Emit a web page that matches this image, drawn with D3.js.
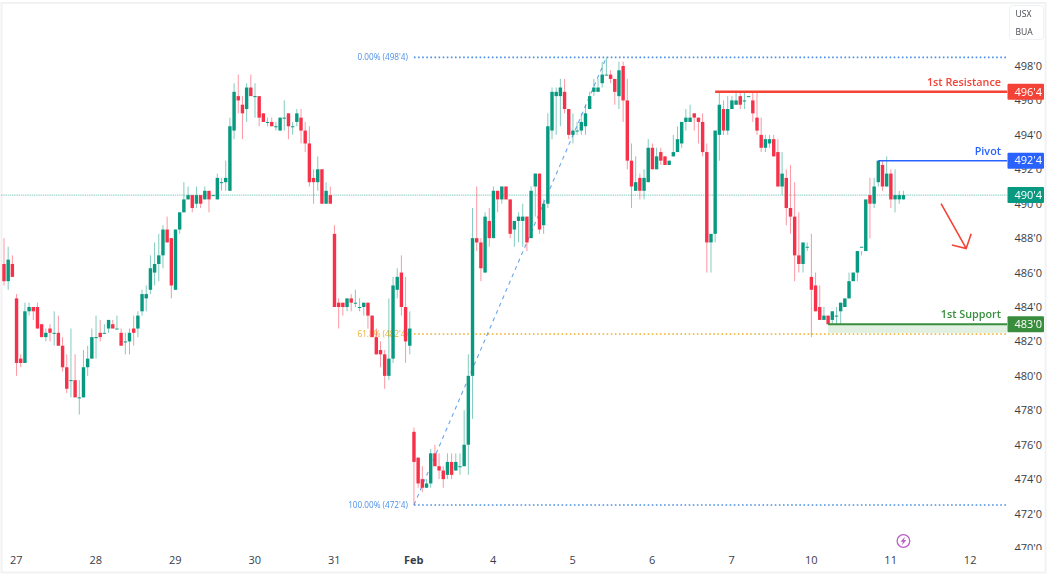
<!DOCTYPE html>
<html>
<head>
<meta charset="utf-8">
<script src="https://cdn.jsdelivr.net/npm/d3@7"></script>
<style>
  html, body { margin: 0; padding: 0; background: #fff; }
  svg { display: block; filter: blur(0.35px); }
  text { font-family: "Open Sans", sans-serif; }
</style>
</head>
<body>
<div id="chart"></div>
<script>
// hourly bars, 19 per session, prices in cents (quarter cent ticks)
const opens = [
  486.5,485.5,486.5,484.5,481,480.75,483.75,484,484,483,482.25,482.75,482.5,482.5,481.75,480.5,479.75,479.75,478.75,478.75,
  480.5,481,482.25,482.5,482.5,482.75,483,482.75,482.5,482,482,482.75,482.75,483.75,484.5,485,486,486.5,487,488.5,
  488,485,488.5,489.5,490.25,490.5,490,490.5,490.25,490.75,490.5,490.25,491.25,491.25,490.75,494.25,496.25,495.75,495.5,496.75,
  496.25,496.25,495.25,494.75,494.75,494.5,494.25,495,495.25,494.5,494.75,495,494.25,493.5,491.5,491.25,492,490,490.5,488.25,
  484.25,484.25,484,484.5,484.25,484,484,484.25,483.5,482.25,481.5,481.25,480,481,485,486,484,481.75,476.75,475.25,
  474,473.5,473.75,475.5,474.75,474.5,474.25,475,474.5,474.75,474.75,476,480,488,487.75,486,489,488,490.75,490.25,
  491,490.25,488.5,489,489,489.25,488,491,491.75,488.75,490,494.25,496.25,496.25,496.5,495.5,494,494.25,494.25,494.5,
  495.5,496.5,496.5,497,497.5,497.5,497.25,496.25,498,496,492.5,490.75,491.5,490.75,491.25,493.25,492,493,492.75,492.25,
  492.75,493,493.5,494.75,494.75,495.25,495,494.75,493,487.75,488.25,494,495.5,494.25,495.5,495.75,496.25,496,496.25,496,
  495,494,493.25,493.5,493.75,493,491,491.5,489.75,489.25,487,486.5,487.5,485.75,485.25,484,483.25,483.5,483.25,483.5,
  483.75,484,484.5,485.5,486,487.5,487.25,490.5,490,491.25,492.25,491,491.75,490.25,490.25,490.25
];
const highs = [
  488,487.5,487,484.75,481.25,484.25,484.25,484,484.25,483,482.75,483,483.75,483.5,482.25,481.25,482.75,481.25,479.75,481.5,
  481.75,482.75,483.5,483.25,483,483.25,483.25,483.5,482.75,482.5,482.75,483.5,483.75,485,485.25,487,487.75,488.25,488.75,489.25,
  488,488.5,489.5,491.25,491,490.5,491,490.5,491,490.75,490.5,491.75,491.5,492.5,495,497,497.5,496.25,497,497.5,
  497,496.25,495.25,495,495,494.75,495,496,495.25,494.75,495.5,495.5,494.75,494.5,492,492.75,492,491.25,491,488.75,
  484.5,484.25,484.5,484.75,485,484.5,484.25,484.25,483.5,482.75,482,481.5,484.5,485.75,486.25,487,485.75,483.75,477,475.25,
  474.75,474,475.75,476,475.5,474.75,475.5,475.5,475.5,475.5,478,481.25,489.75,491,488,489.5,489.75,491,490.75,491,
  491,490.25,489,489.5,490,489.25,491,491.75,491.75,490.25,495.25,496.75,496.75,497.25,497.25,495.5,495.25,494.75,495.25,495.75,
  496.5,497.25,497.25,498.25,498.5,497.75,497.25,498.25,498.25,497.25,493.5,492.75,491.75,492,493.75,493.5,493.25,493.25,492.75,492.5,
  494,494.5,494.75,495.5,495.75,495.25,495,495.25,493.5,486,491,496.5,496,496.25,496.25,496.5,496.5,496.5,496,496.5,
  496.5,495,494,494,494,493.75,493,492,492.25,491.25,489.5,487,487.75,488.25,486,485.25,484,483.5,483.75,484,
  484.25,484.25,486,486,486.5,487.25,489,491.5,491.5,491.5,492.5,492.75,492,492,490.75,490.75,490.75
];
const lows = [
  485.25,485,485.75,480,480.5,480.75,483.5,483.25,482.75,482.25,482,482,481.75,481.75,480.25,479,478.75,478.75,477.75,478.75,
  480,481,481,482,482.5,482.5,482.75,482.75,481.75,481.25,481.25,481.75,482.25,483.5,483.75,484.75,485.25,485.5,486.25,487.75,
  484.5,485,488.25,489.5,490.25,489.5,489.75,489.75,490.25,489.5,490.5,490.25,490.75,490.75,490.75,493.75,495.25,493.75,494.75,496.25,
  495,494.5,494.75,494.5,494.5,494.25,494.25,494.25,493.75,494,494.5,493.5,493,491,490,490.75,490,490,490,484,
  482.75,483.5,483.75,483.75,484,483.75,483.5,482.75,482.25,481.25,480.5,479.25,479.75,480.75,484.5,483.5,480.75,481.25,472.5,473.5,
  473.25,473.5,473.5,474.75,474,473.5,474,474,474.5,474.25,474.75,474.25,477.5,487.25,485.5,486,487.5,488,489.5,490,
  490.25,488,487.5,487.75,487.5,487.25,488,489.25,488.25,488.25,489.75,493.75,494,494.5,495.25,493.75,493.5,494,494,494,
  495.5,496.25,496.5,496.75,497.5,497,495.75,495.5,494.75,492,489.75,490.75,490.25,490.25,491.25,492,492,492.25,492.25,492.25,
  492.75,493,493.25,494.25,494.75,494.25,493.5,492.75,486,487.75,487.75,492.5,494,494,495.5,495.75,495.5,495.5,496,494.75,
  494,493,493,493.25,492.75,491,490.5,488.75,488.25,485.5,486,486,487.25,482.25,483.75,483.25,483.25,483,483,483,
  483,484,484.5,485.5,485.5,487,487.25,488,489.75,491,490.75,491,489.75,489.5,490,490.25
];
const closes = [
  485.5,486.75,485.75,480.75,480.75,483.75,484,483.75,482.75,482.25,482.5,482.5,482.5,481.75,480.5,479.25,479.75,478.75,478.75,480.5,
  481,482.25,482.25,482.25,482.5,483.25,482.75,482.75,481.75,482,482.5,482.5,483.5,484.75,484.75,486.25,486.5,487,488.5,487.75,
  485.25,488.5,489.5,490.25,490.5,489.75,490.5,490,490.75,490.25,490.5,491.5,491.25,491.5,494.5,496.5,496,495.25,496.75,496.25,
  496.25,495,494.75,494.75,494.5,494.5,495,495,494.5,494.5,495.25,494.25,493.5,491.25,491.25,492,490,490.75,490,484,
  484,484,484.5,484.25,484.25,484,484.25,483.5,482.25,481.25,481.25,480,481,485.25,485.75,484,482,482.75,475,473.75,
  473.5,473.75,475.5,474.75,474.5,474,475,474.25,475,474.75,476,480,488,487.75,486.25,489.25,488,490.75,490.25,491,
  490.25,488.25,489,489.25,489.25,487.75,490.75,491.75,488.5,490,494.5,496.5,496.5,496.75,495.5,494,494.25,494.25,494.75,495.25,
  496.25,496.75,496.75,497.5,497.5,497.25,496.5,497.75,496,492.5,491,491.25,490.75,491.5,493.25,492,492.75,492.5,492.25,492.5,
  493,493.75,494.75,495,495,495,494.75,493,487.75,488.25,494.25,495.75,494.25,495.5,496,496,495.75,496,496.25,495.25,
  494.25,493.25,493.75,493.75,492.75,491,491.75,489.75,489.25,487,486.5,487.75,487.5,485,483.75,483.25,483.5,483,483.75,483.5,
  484.25,484.5,485.5,486,487.25,487.5,490.25,490,491,492.5,491,491.75,490.25,490.5,490.5,490.5
];

const dayLabels = ["27", "28", "29", "30", "31", "Feb", "4", "5", "6", "7", "10", "11", "12"];
const dayBars = [3, 22, 41, 60, 79, 98, 117, 136, 155, 174, 193, 212, 231];
const priceTicks = [470, 472, 474, 476, 478, 480, 482, 484, 486, 488, 490, 492, 494, 496, 498];

const fibPrices = [498.5, 482.43, 472.5];
const fibNames = ["0.00%", "61.8%", "100.00%"];
const fibColors = ["#4a90e8", "#eeb02c", "#4a90e8"];
const fibStartBar = 98;
const fibEndBar = 144;
const lineEndBar = 239.8;

const levelNames = ["1st Resistance", "Pivot", "1st Support"];
const levelPrices = [496.5, 492.5, 483];
const levelStartBars = [170, 209, 197];
const levelColors = ["#f44336", "#2962ff", "#388e3c"];
const levelWidths = [2.4, 1.6, 2];
const supportZone = [483, 482.5];

// arrow points as [bar, price]: start, tip, and the two head ends
const arrowStart = [224, 490];
const arrowTip = [230, 487.4];
const arrowHeadA = [231.2, 488.25];
const arrowHeadB = [226.6, 487.6];

const upColor = "#089981";
const downColor = "#f7314a";
const width = 1048;
const height = 579;
const barCount = opens.length;
const lastPrice = closes[barCount - 1];

const x = d3.scaleLinear().domain([0, 240]).range([4, 1008]);
const y = d3.scaleLinear().domain([470, 498]).range([548, 66]);

// prices print as whole cents and eighths, to the nearest quarter cent
const fmtPrice = p => {
  const q = Math.round(p * 4) / 4;
  return Math.floor(q) + "'" + (q - Math.floor(q)) * 8;
};

const svg = d3.select("#chart").append("svg")
  .attr("width", width)
  .attr("height", height);

svg.append("rect")
  .attr("x", 1.5).attr("y", 3)
  .attr("width", 1044).attr("height", 569.5)
  .attr("fill", "#fff")
  .attr("stroke", "#f1f2f4")
  .attr("stroke-width", 2);

svg.append("clipPath").attr("id", "pane")
  .append("rect").attr("x", 0).attr("y", 0).attr("width", width).attr("height", 550);

// price axis
const yAxis = svg.append("g")
  .attr("clip-path", "url(#pane)")
  .attr("transform", "translate(1008,0)")
  .call(d3.axisRight(y).tickValues(priceTicks).tickSize(0).tickPadding(6.5).tickFormat(fmtPrice));
yAxis.select(".domain").remove();
yAxis.selectAll("text").attr("font-size", 11).attr("fill", "#3a3d47")
  .style("font-family", '"Open Sans", sans-serif');

// time axis
const xAxis = svg.append("g")
  .attr("transform", "translate(-0.7,551)")
  .call(d3.axisBottom(x).tickValues(dayBars).tickSize(0).tickPadding(5).tickFormat((d, i) => dayLabels[i]));
xAxis.select(".domain").remove();
xAxis.selectAll("text").attr("font-size", 11).attr("fill", "#3a3d47")
  .attr("font-weight", (d, i) => dayLabels[i] === "Feb" ? 700 : 400)
  .style("font-family", '"Open Sans", sans-serif');

// last price line
svg.append("line")
  .attr("x1", x(0) - 3).attr("x2", x(lineEndBar))
  .attr("y1", y(lastPrice)).attr("y2", y(lastPrice))
  .attr("stroke", upColor).attr("stroke-opacity", 0.4)
  .attr("stroke-width", 1.4)
  .attr("stroke-dasharray", "1.4 0.8");

// support zone
svg.append("rect")
  .attr("x", x(levelStartBars[2]))
  .attr("y", y(supportZone[0]))
  .attr("width", x(lineEndBar) - x(levelStartBars[2]))
  .attr("height", y(supportZone[1]) - y(supportZone[0]))
  .attr("fill", "#e2f0e2");

// fib levels
svg.selectAll(".fib").data(fibPrices).enter().append("line")
  .attr("class", "fib")
  .attr("x1", x(fibStartBar)).attr("x2", x(lineEndBar))
  .attr("y1", d => y(d)).attr("y2", d => y(d))
  .attr("stroke", (d, i) => fibColors[i])
  .attr("stroke-width", 1.6)
  .attr("stroke-dasharray", "1.6 2.5");

svg.selectAll(".fib-label").data(fibPrices).enter().append("text")
  .attr("class", "fib-label")
  .attr("x", x(fibStartBar) - 6)
  .attr("y", d => y(d) + 3)
  .attr("text-anchor", "end")
  .attr("font-size", 8.2)
  .attr("fill", (d, i) => fibColors[i])
  .text((d, i) => `${fibNames[i]} (${fmtPrice(d)})`);

// fib trend line
svg.append("line")
  .attr("x1", x(fibStartBar)).attr("y1", y(fibPrices[2]))
  .attr("x2", x(fibEndBar)).attr("y2", y(fibPrices[0]))
  .attr("stroke", "#6aa5ec")
  .attr("stroke-width", 1.1)
  .attr("stroke-dasharray", "4 4");

// candles
const candles = svg.selectAll(".candle").data(opens).enter().append("g").attr("class", "candle");
const candleColor = (d, i) => closes[i] >= d ? upColor : downColor;

candles.append("line")
  .attr("x1", (d, i) => x(i)).attr("x2", (d, i) => x(i))
  .attr("y1", (d, i) => y(highs[i])).attr("y2", (d, i) => y(lows[i]))
  .attr("stroke", candleColor)
  .attr("stroke-opacity", 0.5);

candles.append("rect")
  .attr("x", (d, i) => x(i) - 1.7)
  .attr("width", 3.4)
  .attr("y", (d, i) => y(Math.max(d, closes[i])))
  .attr("height", (d, i) => Math.max(1, Math.abs(y(d) - y(closes[i]))))
  .attr("fill", candleColor);

// key levels
svg.selectAll(".level").data(levelPrices).enter().append("line")
  .attr("class", "level")
  .attr("x1", (d, i) => x(levelStartBars[i])).attr("x2", x(lineEndBar))
  .attr("y1", d => y(d)).attr("y2", d => y(d))
  .attr("stroke", (d, i) => levelColors[i])
  .attr("stroke-width", (d, i) => levelWidths[i]);

svg.selectAll(".level-label").data(levelPrices).enter().append("text")
  .attr("class", "level-label")
  .attr("x", 1001)
  .attr("y", d => y(d) - 6)
  .attr("text-anchor", "end")
  .attr("font-size", 10.8)
  .attr("font-weight", 600)
  .attr("fill", (d, i) => levelColors[i])
  .text((d, i) => levelNames[i]);

// price badges
const badgePrices = levelPrices.concat([lastPrice]);
const badgeColors = levelColors.concat([upColor]);

svg.selectAll(".badge").data(badgePrices).enter().append("rect")
  .attr("class", "badge")
  .attr("x", 1007.5).attr("width", 36.5)
  .attr("y", d => y(d) - 8).attr("height", 16)
  .attr("rx", 1)
  .attr("fill", (d, i) => badgeColors[i]);

svg.selectAll(".badge-label").data(badgePrices).enter().append("text")
  .attr("class", "badge-label")
  .attr("x", 1014.5)
  .attr("y", d => y(d) + 3.8)
  .attr("font-size", 11)
  .attr("fill", "#fff")
  .text(d => fmtPrice(d));

// arrow
const arrowLine = d3.line().x(d => x(d[0])).y(d => y(d[1]));
svg.append("path")
  .attr("d", arrowLine([arrowStart, arrowTip]) + arrowLine([arrowHeadA, arrowTip, arrowHeadB]))
  .attr("fill", "none")
  .attr("stroke", "#f44336")
  .attr("stroke-width", 1.6);

// symbol box
svg.append("rect")
  .attr("x", 1009.5).attr("y", 5.5)
  .attr("width", 34).attr("height", 34)
  .attr("rx", 3)
  .attr("fill", "#fff")
  .attr("stroke", "#eef0f2");

svg.selectAll(".symbol").data(["USX", "BUA"]).enter().append("text")
  .attr("class", "symbol")
  .attr("x", 1015.5)
  .attr("y", (d, i) => 17 + i * 18)
  .attr("font-size", 8.6)
  .attr("fill", "#43464f")
  .text(d => d);

// event marker
const marker = svg.append("g").attr("transform", `translate(${x(215)},541)`);
marker.append("circle")
  .attr("r", 6.3)
  .attr("fill", "#fff")
  .attr("stroke", "#ba5fc8")
  .attr("stroke-width", 1.3);
marker.append("path")
  .attr("d", "M1.5,-4.2 L-2.9,0.7 L-0.5,0.7 L-1.5,4.2 L2.9,-0.9 L0.5,-0.9 Z")
  .attr("fill", "#ba5fc8");
</script>
</body>
</html>
